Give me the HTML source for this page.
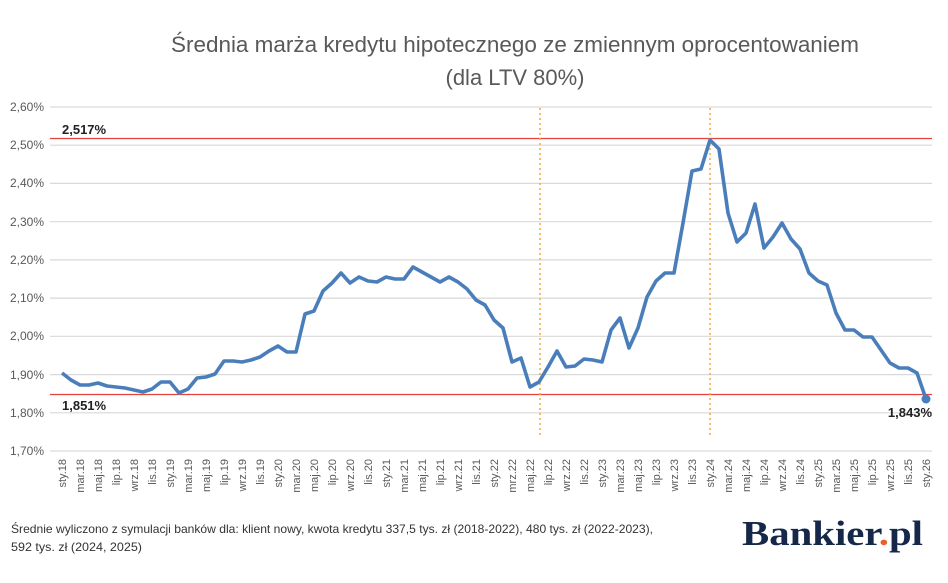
<!DOCTYPE html>
<html><head><meta charset="utf-8"><style>
html,body{margin:0;padding:0;background:#fff;}
svg{display:block;}
</style></head><body>
<svg width="948" height="583" viewBox="0 0 948 583" xmlns="http://www.w3.org/2000/svg" font-family="Liberation Sans, sans-serif">
<rect width="948" height="583" fill="#fff"/>
<text x="515" y="52" text-anchor="middle" font-size="22" fill="#595959" textLength="688" lengthAdjust="spacingAndGlyphs">Średnia marża kredytu hipotecznego ze zmiennym oprocentowaniem</text>
<text x="515" y="85" text-anchor="middle" font-size="22" fill="#595959">(dla LTV 80%)</text>
<g stroke="#d9d9d9" stroke-width="1.2">
<line x1="50" x2="932" y1="107" y2="107"/><line x1="50" x2="932" y1="145.2" y2="145.2"/><line x1="50" x2="932" y1="183.4" y2="183.4"/><line x1="50" x2="932" y1="221.7" y2="221.7"/><line x1="50" x2="932" y1="259.9" y2="259.9"/><line x1="50" x2="932" y1="298.1" y2="298.1"/><line x1="50" x2="932" y1="336.3" y2="336.3"/><line x1="50" x2="932" y1="374.6" y2="374.6"/><line x1="50" x2="932" y1="412.8" y2="412.8"/><line x1="50" x2="932" y1="451" y2="451"/>
</g>
<g font-size="12" fill="#595959" text-anchor="end">
<text x="44" y="111">2,60%</text><text x="44" y="149">2,50%</text><text x="44" y="187">2,40%</text><text x="44" y="226">2,30%</text><text x="44" y="264">2,20%</text><text x="44" y="302">2,10%</text><text x="44" y="340">2,00%</text><text x="44" y="379">1,90%</text><text x="44" y="417">1,80%</text><text x="44" y="455">1,70%</text>
</g>
<line x1="50" x2="932" y1="138.5" y2="138.5" stroke="#e8403a" stroke-width="1.3"/>
<line x1="50" x2="932" y1="394.5" y2="394.5" stroke="#e8403a" stroke-width="1.3"/>
<line x1="540" x2="540" y1="108" y2="436" stroke="#f2a93b" stroke-width="1.5" stroke-dasharray="2,3"/>
<line x1="710" x2="710" y1="108" y2="436" stroke="#f2a93b" stroke-width="1.5" stroke-dasharray="2,3"/>
<polyline fill="none" stroke="#4a7ebb" stroke-width="3.6" stroke-linejoin="round" points="62,373 71,380 80,385 89,385 98,383 107,386 116,387 125,388 134,390 143,392 152,389 161,382 170,382 179,393 188,389 197,378 206,377 215,374 224,361 233,361 242,362 251,360 260,357 269,351 278,346 287,352 296,352 305,314 314,311 323,291 332,283 341,273 350,283 359,277 368,281 377,282 386,277 395,279 404,279 413,267 422,272 431,277 440,282 449,277 458,282 467,289 476,300 485,305 494,320 503,328 512,362 521,358 530,387 539,382 548,367 557,351 566,367 575,366 584,359 593,360 602,362 611,330 620,318 629,348 638,328 647,297 656,281 665,273 674,273 683,223 692,171 701,169 710,140 719,149 728,213 737,242 746,233 755,204 764,248 773,237 782,223 791,239 800,249 809,273 818,281 827,285 836,313 845,330 854,330 863,337 872,337 881,350 890,363 899,368 908,368 917,373 926,399"/>
<circle cx="926" cy="399" r="4.5" fill="#4a7ebb"/>
<g font-size="13" font-weight="bold" fill="#222">
<text x="62" y="134">2,517%</text>
<text x="62" y="410">1,851%</text>
<text x="932" y="417" text-anchor="end">1,843%</text>
</g>
<g font-size="11" fill="#595959" text-anchor="end">
<text transform="translate(66,459) rotate(-90)">sty.18</text>
<text transform="translate(84,459) rotate(-90)">mar.18</text>
<text transform="translate(102,459) rotate(-90)">maj.18</text>
<text transform="translate(120,459) rotate(-90)">lip.18</text>
<text transform="translate(138,459) rotate(-90)">wrz.18</text>
<text transform="translate(156,459) rotate(-90)">lis.18</text>
<text transform="translate(174,459) rotate(-90)">sty.19</text>
<text transform="translate(192,459) rotate(-90)">mar.19</text>
<text transform="translate(210,459) rotate(-90)">maj.19</text>
<text transform="translate(228,459) rotate(-90)">lip.19</text>
<text transform="translate(246,459) rotate(-90)">wrz.19</text>
<text transform="translate(264,459) rotate(-90)">lis.19</text>
<text transform="translate(282,459) rotate(-90)">sty.20</text>
<text transform="translate(300,459) rotate(-90)">mar.20</text>
<text transform="translate(318,459) rotate(-90)">maj.20</text>
<text transform="translate(336,459) rotate(-90)">lip.20</text>
<text transform="translate(354,459) rotate(-90)">wrz.20</text>
<text transform="translate(372,459) rotate(-90)">lis.20</text>
<text transform="translate(390,459) rotate(-90)">sty.21</text>
<text transform="translate(408,459) rotate(-90)">mar.21</text>
<text transform="translate(426,459) rotate(-90)">maj.21</text>
<text transform="translate(444,459) rotate(-90)">lip.21</text>
<text transform="translate(462,459) rotate(-90)">wrz.21</text>
<text transform="translate(480,459) rotate(-90)">lis.21</text>
<text transform="translate(498,459) rotate(-90)">sty.22</text>
<text transform="translate(516,459) rotate(-90)">mrz.22</text>
<text transform="translate(534,459) rotate(-90)">maj.22</text>
<text transform="translate(552,459) rotate(-90)">lip.22</text>
<text transform="translate(570,459) rotate(-90)">wrz.22</text>
<text transform="translate(588,459) rotate(-90)">lis.22</text>
<text transform="translate(606,459) rotate(-90)">sty.23</text>
<text transform="translate(624,459) rotate(-90)">mar.23</text>
<text transform="translate(642,459) rotate(-90)">maj.23</text>
<text transform="translate(660,459) rotate(-90)">lip.23</text>
<text transform="translate(678,459) rotate(-90)">wrz.23</text>
<text transform="translate(696,459) rotate(-90)">lis.23</text>
<text transform="translate(714,459) rotate(-90)">sty.24</text>
<text transform="translate(732,459) rotate(-90)">mar.24</text>
<text transform="translate(750,459) rotate(-90)">maj.24</text>
<text transform="translate(768,459) rotate(-90)">lip.24</text>
<text transform="translate(786,459) rotate(-90)">wrz.24</text>
<text transform="translate(804,459) rotate(-90)">lis.24</text>
<text transform="translate(822,459) rotate(-90)">sty.25</text>
<text transform="translate(840,459) rotate(-90)">mar.25</text>
<text transform="translate(858,459) rotate(-90)">maj.25</text>
<text transform="translate(876,459) rotate(-90)">lip.25</text>
<text transform="translate(894,459) rotate(-90)">wrz.25</text>
<text transform="translate(912,459) rotate(-90)">lis.25</text>
<text transform="translate(930,459) rotate(-90)">sty.26</text>
</g>
<g font-size="12" fill="#333">
<text x="11" y="533" textLength="642" lengthAdjust="spacingAndGlyphs">Średnie wyliczono z symulacji banków dla: klient nowy, kwota kredytu 337,5 tys. zł (2018-2022), 480 tys. zł (2022-2023),</text>
<text x="11" y="551" textLength="131" lengthAdjust="spacingAndGlyphs">592 tys. zł (2024, 2025)</text>
</g>
<text x="742" y="545" font-family="Liberation Serif, serif" font-weight="bold" font-size="35" fill="#16284a" textLength="181" lengthAdjust="spacingAndGlyphs">Bankier<tspan fill="#e8602c">.</tspan>pl</text>
</svg>
</body></html>
